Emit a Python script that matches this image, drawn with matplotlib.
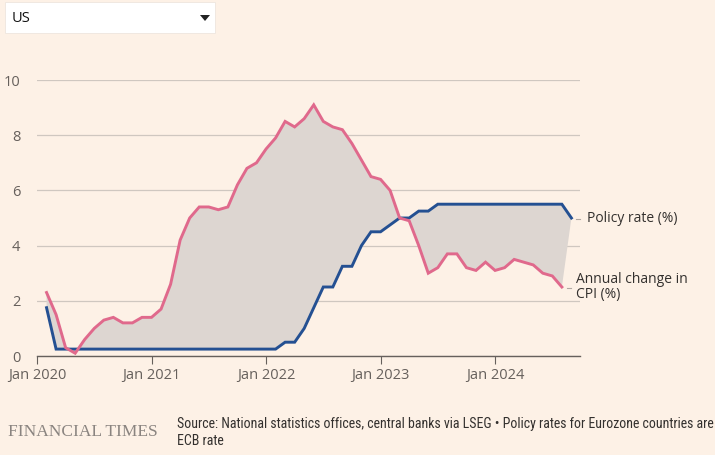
import matplotlib.pyplot as plt
from matplotlib.patches import Rectangle, Polygon
import numpy as np

# ---------- Data (monthly, month 0 = Jan 2020) ----------
cpi_start = 1  # Feb 2020
cpi = [2.3, 1.5, 0.3, 0.1, 0.6, 1.0, 1.3, 1.4, 1.2, 1.2, 1.4,          # Feb-Dec 2020
       1.4, 1.7, 2.6, 4.2, 5.0, 5.4, 5.4, 5.3, 5.4, 6.2, 6.8, 7.0,     # 2021
       7.5, 7.9, 8.5, 8.3, 8.6, 9.1, 8.5, 8.3, 8.2, 7.7, 7.1, 6.5,     # 2022
       6.4, 6.0, 5.0, 4.9, 4.0, 3.0, 3.2, 3.7, 3.7, 3.2, 3.1, 3.4,     # 2023
       3.1, 3.2, 3.5, 3.4, 3.3, 3.0, 2.9, 2.5]                         # Jan-Aug 2024

rate_start = 1  # Feb 2020
rate = [1.75, 0.25, 0.25, 0.25, 0.25, 0.25, 0.25, 0.25, 0.25, 0.25, 0.25,
        0.25, 0.25, 0.25, 0.25, 0.25, 0.25, 0.25, 0.25, 0.25, 0.25, 0.25, 0.25,
        0.25, 0.25, 0.5, 0.5, 1.0, 1.75, 2.5, 2.5, 3.25, 3.25, 4.0, 4.5,
        4.5, 4.75, 5.0, 5.0, 5.25, 5.25, 5.5, 5.5, 5.5, 5.5, 5.5, 5.5,
        5.5, 5.5, 5.5, 5.5, 5.5, 5.5, 5.5, 5.5, 5.0]                   # Jan-Sep 2024

tick_months = [0, 12, 24, 36, 48]
tick_labels = ["Jan 2020", "Jan 2021", "Jan 2022", "Jan 2023", "Jan 2024"]
y_ticks = [0, 2, 4, 6, 8, 10]

# ---------- Style ----------
bg = "#fdf1e6"
pink = "#e0698c"
blue = "#245092"
fill_col = "#ddd6d1"
grid_col = "#cfc7c0"
tick_col = "#66605c"
text_col = "#33302e"
sans = ["Open Sans", "DejaVu Sans"]

x_cpi = np.arange(cpi_start, cpi_start + len(cpi))
x_rate = np.arange(rate_start, rate_start + len(rate))

fig = plt.figure(figsize=(7.15, 4.55), dpi=100, facecolor=bg)
ax = fig.add_axes([37 / 715, 1 - 356 / 455, (580 - 37) / 715, (356 - 80) / 455])
ax.set_facecolor(bg)

# shaded gap between the two series
poly = np.vstack([np.column_stack([x_rate, rate]),
                  np.column_stack([x_cpi[::-1], np.array(cpi)[::-1]])])
ax.add_patch(Polygon(poly, closed=True, facecolor=fill_col, edgecolor="none", zorder=1))

ax.plot(x_rate, rate, color=blue, lw=2.1, zorder=3, solid_joinstyle="miter")
ax.plot(x_cpi, cpi, color=pink, lw=2.1, zorder=4, solid_joinstyle="miter")

ax.set_xlim(0, 56.9)
ax.set_ylim(0, 10)
ax.set_yticks(y_ticks)
ax.set_yticklabels([str(v) for v in y_ticks])
ax.set_xticks(tick_months)
ax.set_xticklabels(tick_labels)
ax.grid(axis="y", color=grid_col, lw=0.9, zorder=0)
ax.set_axisbelow(True)
for s in ["top", "right", "left"]:
    ax.spines[s].set_visible(False)
ax.spines["bottom"].set_color("#66605c")
ax.spines["bottom"].set_linewidth(1.0)
ax.tick_params(axis="y", length=0, pad=12, labelsize=10.5, labelcolor=tick_col)
ax.tick_params(axis="x", length=6, width=0.8, color="#66605c", pad=3,
               labelsize=10.5, labelcolor=tick_col)
for lab in ax.get_xticklabels() + ax.get_yticklabels():
    lab.set_family(sans)

# right-hand line labels
ax.annotate("Policy rate (%)", xy=(x_rate[-1], rate[-1]), xytext=(11, 0),
            textcoords="offset points", va="center", ha="left", fontsize=10,
            color=text_col, family=sans, annotation_clip=False)
ax.annotate("Annual change in\nCPI (%)", xy=(x_cpi[-1], cpi[-1]), xytext=(10.5, 0),
            textcoords="offset points", va="center", ha="left", fontsize=10,
            color=text_col, family=sans, linespacing=0.95, annotation_clip=False)
fig.lines.append(plt.Line2D([576 / 715, 580 / 715], [1 - 219 / 455] * 2,
                            transform=fig.transFigure, color="#b0a8a2", lw=0.8))
fig.lines.append(plt.Line2D([567 / 715, 571 / 715], [1 - 288 / 455] * 2,
                            transform=fig.transFigure, color="#b0a8a2", lw=0.8))

# dropdown selector at the top
fig.patches.append(Rectangle((5 / 715, 1 - 33 / 455), 210 / 715, 31 / 455,
                             transform=fig.transFigure, facecolor="white",
                             edgecolor="#eee6de", lw=0.6))
fig.text(12 / 715, 1 - 18 / 455, "US", fontsize=10.5, color="#111111",
         va="center", ha="left", family=sans)
fig.patches.append(Polygon([[200 / 715, 1 - 15 / 455], [210 / 715, 1 - 15 / 455],
                            [205 / 715, 1 - 21 / 455]], closed=True,
                           transform=fig.transFigure, facecolor="#222222"))

# footer
fig.text(8 / 715, 1 - 432 / 455, "FINANCIAL TIMES", fontsize=12.5, color="#8a8480",
         family=["Liberation Serif", "DejaVu Serif"], va="center", ha="left")
foot = ["Liberation Sans Narrow", "Roboto Condensed", "DejaVu Sans"]
fig.text(177 / 715, 1 - 424 / 455,
         "Source: National statistics offices, central banks via LSEG \u2022 Policy rates for Eurozone countries are",
         fontsize=10, color=text_col, family=foot, va="center", ha="left")
fig.text(177 / 715, 1 - 441 / 455, "ECB rate", fontsize=10, color=text_col,
         family=foot, va="center", ha="left")

fig.savefig("out.png", dpi=100, facecolor=bg)
